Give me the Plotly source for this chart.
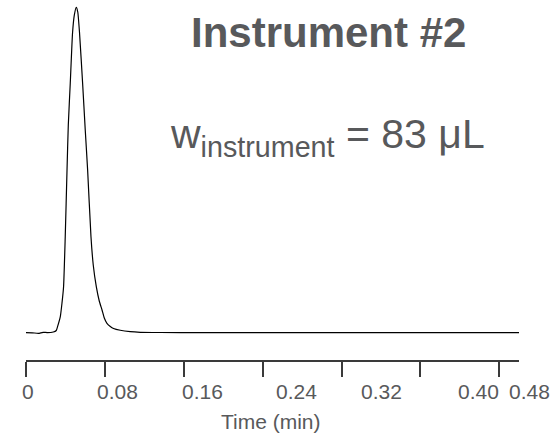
import plotly.graph_objects as go

# chromatogram trace (time in min, normalised signal)
time_min = [0.0, 0.0064, 0.0125, 0.0172, 0.0216, 0.0277, 0.0307, 0.0320, 0.0348,
            0.0365, 0.0381, 0.0398, 0.0416, 0.0429, 0.0449, 0.0472, 0.0490, 0.0510,
            0.0525, 0.0543, 0.0574, 0.0601, 0.0625, 0.0659, 0.0682, 0.0713, 0.0743,
            0.0771, 0.0794, 0.0821, 0.0855, 0.0888, 0.0956, 0.1057, 0.1159, 0.1362,
            0.1767, 0.2781, 0.3795, 0.5]
signal = [-0.0006, -0.0009, -0.0028, 0.0006, -0.0003, 0.0015, 0.0061, 0.0178, 0.0486,
          0.0907, 0.1408, 0.2946, 0.4997, 0.638, 0.767, 0.921, 0.976, 1.0,
          0.9855, 0.921, 0.767, 0.622, 0.4997, 0.2946, 0.2076, 0.1408, 0.0969,
          0.0692, 0.0446, 0.0283, 0.0185, 0.0123, 0.0068, 0.0025, 0.0006, 0.0,
          -0.0003, -0.0003, -0.0003, -0.0003]

x_range = [0, 0.5]
tick_vals = [0, 0.08, 0.16, 0.24, 0.32, 0.40, 0.48]
tick_text = ['0', '0.08', '0.16', '0.24', '0.32', '0.40', '0.48']
# the labels in the original sit off their ticks (time units)
label_pos = [0.0020, 0.0929, 0.1785, 0.2748, 0.3606, 0.4587, 0.5111]

title_text = '<b>Instrument #2</b>'
width_text = 'w<sub>instrument</sub> = 83 μL'

grey = '#58595b'
font = 'Liberation Sans, Arial, sans-serif'

fig = go.Figure()
fig.add_trace(go.Scatter(x=time_min, y=signal, mode='lines',
                         line=dict(color='black', width=1.2, shape='spline', smoothing=0.5),
                         hoverinfo='skip', showlegend=False))

# tick labels as paper-positioned text so the last one can sit past the axis end
for v, t in zip(label_pos, tick_text):
    fig.add_annotation(x=(v - x_range[0]) / (x_range[1] - x_range[0]), y=-0.0876,
                       xref='paper', yref='paper', text=t, showarrow=False,
                       xanchor='center', yanchor='middle', font=dict(size=21, color=grey))

fig.add_annotation(x=0.497, y=-0.1733, xref='paper', yref='paper', text='Time (min)',
                   showarrow=False, xanchor='center', yanchor='middle',
                   font=dict(size=21, color=grey))
fig.add_annotation(x=0.6126, y=0.9208, xref='paper', yref='paper', text=title_text,
                   showarrow=False, xanchor='center', yanchor='middle',
                   font=dict(size=42, color=grey))
fig.add_annotation(x=0.6116, y=0.6264, xref='paper', yref='paper', text=width_text,
                   showarrow=False, xanchor='center', yanchor='middle',
                   font=dict(size=41, color=grey))

fig.update_xaxes(range=x_range, showline=True, linecolor='#3a3a3a', linewidth=1.5,
                 ticks='outside', ticklen=15, tickwidth=1.5, tickcolor='#3a3a3a',
                 tickvals=tick_vals, showticklabels=False, showgrid=False, zeroline=False)
fig.update_yaxes(range=[-0.0846, 1.0101], visible=False)
fig.update_layout(width=553, height=436, margin=dict(l=26, r=34, t=4, b=76),
                  paper_bgcolor='white', plot_bgcolor='white',
                  font=dict(family=font, color=grey))

# drop the default 8px body margin so the figure fills the window
fig.write_html('out.html', config={'displayModeBar': False},
               post_script="document.body.style.margin = '0';")
